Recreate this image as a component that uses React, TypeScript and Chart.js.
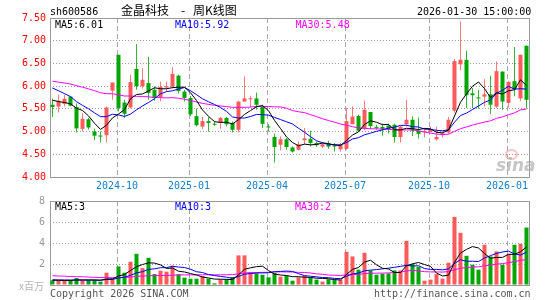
import { useEffect, useRef } from 'react';
import { Chart, registerables } from 'chart.js';

Chart.register(...registerables);

// Weekly candles (week-ending dates)
const weeks = [
  '2024-07-26', '2024-08-02', '2024-08-09', '2024-08-16', '2024-08-23', '2024-08-30', '2024-09-06', '2024-09-13', '2024-09-20', '2024-09-27',
  '2024-09-30', '2024-10-11', '2024-10-18', '2024-10-25', '2024-11-01', '2024-11-08', '2024-11-15', '2024-11-22', '2024-11-29', '2024-12-06',
  '2024-12-13', '2024-12-20', '2024-12-27', '2025-01-03', '2025-01-10', '2025-01-17', '2025-01-24', '2025-01-27', '2025-02-07', '2025-02-14',
  '2025-02-21', '2025-02-28', '2025-03-07', '2025-03-14', '2025-03-21', '2025-03-28', '2025-04-03', '2025-04-11', '2025-04-18', '2025-04-25',
  '2025-04-30', '2025-05-09', '2025-05-16', '2025-05-23', '2025-05-30', '2025-06-06', '2025-06-13', '2025-06-20', '2025-06-27', '2025-07-04',
  '2025-07-11', '2025-07-18', '2025-07-25', '2025-08-01', '2025-08-08', '2025-08-15', '2025-08-22', '2025-08-29', '2025-09-05', '2025-09-12',
  '2025-09-19', '2025-09-26', '2025-09-30', '2025-10-10', '2025-10-17', '2025-10-24', '2025-10-31', '2025-11-07', '2025-11-14', '2025-11-21',
  '2025-11-28', '2025-12-05', '2025-12-12', '2025-12-19', '2025-12-26', '2025-12-31', '2026-01-09', '2026-01-16', '2026-01-23', '2026-01-30',
];

const opens = [
  5.59, 5.55, 5.61, 5.77, 5.54, 5.06, 5.27, 5.00, 4.91, 4.92,
  5.90, 6.69, 5.64, 5.53, 6.38, 6.00, 6.07, 5.92, 5.76, 5.97,
  5.99, 6.23, 5.88, 5.74, 5.34, 5.11, 5.23, 5.17, 5.19, 5.30,
  5.19, 5.04, 5.66, 5.71, 5.73, 5.54, 5.11, 4.88, 4.71, 4.83,
  4.65, 4.60, 4.81, 4.84, 4.75, 4.67, 4.71, 4.69, 4.61, 4.62,
  5.16, 5.34, 5.07, 5.43, 5.10, 5.10, 5.13, 5.15, 4.88, 5.16,
  5.26, 5.02, 4.99, 5.00, 4.83, 4.92, 4.98, 5.46, 6.48, 6.58,
  5.84, 5.75, 5.77, 5.82, 5.55, 6.32, 5.63, 6.11, 5.73, 6.89,
];
const highs = [
  5.73, 5.81, 5.81, 5.78, 5.62, 5.41, 5.30, 5.06, 5.00, 5.55,
  6.08, 6.69, 5.70, 6.25, 6.93, 6.40, 6.64, 5.99, 6.10, 6.10,
  6.42, 6.25, 5.92, 5.79, 5.51, 5.32, 5.32, 5.22, 5.32, 5.32,
  5.22, 5.68, 6.21, 5.79, 5.86, 5.59, 5.16, 4.95, 4.89, 4.86,
  4.67, 4.78, 5.08, 5.02, 4.78, 4.75, 4.80, 4.75, 4.75, 5.52,
  5.56, 5.37, 5.68, 5.43, 5.15, 5.18, 5.17, 5.17, 5.12, 5.70,
  5.34, 5.31, 5.08, 5.11, 5.11, 5.00, 5.32, 6.60, 7.42, 6.78,
  5.96, 5.92, 6.15, 6.23, 6.54, 6.32, 6.12, 6.86, 6.69, 6.89,
];
const lows = [
  5.32, 5.42, 5.55, 5.56, 4.98, 5.00, 5.04, 4.81, 4.76, 4.76,
  5.70, 5.44, 5.30, 5.51, 5.92, 5.95, 5.70, 5.68, 5.67, 5.88,
  5.95, 5.84, 5.66, 5.34, 5.11, 5.05, 5.00, 5.13, 5.06, 5.11,
  4.98, 4.98, 5.66, 5.54, 5.48, 5.08, 5.00, 4.32, 4.59, 4.60,
  4.54, 4.59, 4.71, 4.67, 4.66, 4.64, 4.62, 4.56, 4.56, 4.60,
  5.16, 5.00, 5.03, 5.05, 5.04, 4.91, 4.96, 4.76, 4.76, 5.11,
  4.90, 4.85, 4.87, 4.99, 4.80, 4.87, 4.95, 5.42, 6.35, 5.52,
  5.52, 5.50, 5.55, 5.38, 5.52, 5.48, 5.53, 5.78, 5.67, 5.51,
];
const closes = [
  5.54, 5.68, 5.72, 5.57, 5.07, 5.28, 5.09, 4.91, 4.89, 5.53,
  6.08, 5.52, 5.39, 6.09, 6.00, 6.14, 5.85, 5.74, 5.98, 6.00,
  6.27, 5.89, 5.74, 5.38, 5.14, 5.23, 5.19, 5.15, 5.30, 5.16,
  5.04, 5.66, 5.73, 5.72, 5.59, 5.17, 5.09, 4.66, 4.83, 4.66,
  4.56, 4.72, 4.85, 4.75, 4.70, 4.72, 4.67, 4.67, 4.72, 5.23,
  5.33, 5.02, 5.48, 5.12, 5.08, 5.06, 5.05, 4.88, 5.11, 5.26,
  5.02, 4.95, 5.01, 5.06, 4.88, 4.96, 5.26, 6.55, 6.58, 5.80,
  5.80, 5.73, 5.82, 5.59, 6.33, 5.66, 6.09, 5.93, 6.69, 5.70,
];
// volume, millions
const volumes = [
  0.44, 0.44, 0.44, 0.44, 0.66, 0.44, 0.44, 0.44, 0.32, 1.17,
  0.57, 1.77, 1.17, 2.22, 2.97, 1.61, 2.59, 1.04, 1.36, 1.27,
  1.84, 1.04, 0.70, 0.60, 0.60, 0.85, 0.60, 0.16, 0.54, 0.54,
  0.76, 2.82, 2.82, 1.23, 1.11, 0.98, 0.73, 1.14, 0.79, 0.89,
  0.41, 0.73, 0.89, 0.70, 0.51, 0.32, 0.54, 0.51, 0.51, 3.16,
  2.72, 1.46, 3.07, 1.39, 0.98, 1.08, 1.11, 1.39, 1.39, 4.21,
  1.99, 1.74, 0.41, 0.51, 1.04, 0.60, 2.12, 6.49, 4.97, 2.78,
  1.93, 1.46, 3.83, 2.72, 3.20, 1.93, 2.94, 3.83, 3.92, 5.47,
];
// weeks before the visible window (only feed the moving averages)
const priorCloses = [
  6.35, 6.30, 6.22, 6.15, 6.28, 6.20, 6.12, 6.25, 6.18, 6.10,
  6.19, 6.20, 6.12, 6.18, 6.25, 6.10, 6.15, 6.08, 6.16, 6.12,
  6.30, 6.35, 6.22, 6.18, 6.10, 5.83, 5.82, 5.72, 5.54,
];
const priorVolumes = [
  1.2, 0.9, 1.4, 1.0, 0.8, 1.3, 1.1, 0.9, 1.5, 1.0,
  1.2, 0.8, 1.0, 1.1, 0.9, 1.3, 1.0, 0.9, 1.1, 1.0,
  0.6, 0.5, 0.55, 0.6, 0.5, 0.45, 0.5, 0.4, 0.46,
];

const monthTickLabels = ['2024-10', '2025-01', '2025-04', '2025-07', '2025-10', '2026-01'];
const priceTicks = [4.0, 4.5, 5.0, 5.5, 6.0, 6.5, 7.0, 7.5];
const volumeTicks = [0, 2, 4, 6, 8];

const RED = '#ff5a5a';
const GREEN = '#00a600';
const MONO = "'DejaVu Sans Mono', monospace";
const CJK = "'Noto Sans CJK SC', sans-serif";

const X_MIN = -5 / 12;
const X_MAX = X_MIN + 479 / 6;
const GRID_SHIFT = -0.25;
const BODY_RATIO = 5 / 6; // 5px of a 6px slot
const WICK_RATIO = 1 / 6; // 1px

function movingAverage(prior: number[], values: number[], n: number) {
  const all = prior.concat(values);
  return values.map((_, i) => {
    const end = prior.length + i;
    let s = 0;
    for (let k = end - n + 1; k <= end; k++) s += all[k];
    return s / n;
  });
}

const tickIndexes = monthTickLabels.map((m) => weeks.findIndex((w) => w.startsWith(m)));
const candleColors = closes.map((c, i) => (c >= opens[i] ? RED : GREEN));

const framePlugin = {
  id: 'frame',
  beforeDatasetsDraw(chart: any) {
    const { ctx, chartArea } = chart;
    ctx.save();
    ctx.strokeStyle = '#9a9a9a';
    ctx.lineWidth = 1;
    ctx.strokeRect(
      Math.round(chartArea.left) + 0.5,
      Math.round(chartArea.top) + 0.5,
      Math.round(chartArea.right - chartArea.left),
      Math.round(chartArea.bottom - chartArea.top)
    );
    ctx.restore();
  },
};

function xScale(showLabels: boolean) {
  return {
    type: 'linear',
    min: X_MIN,
    max: X_MAX,
    offset: false,
    afterBuildTicks: (s: any) => {
      s.ticks = tickIndexes.map((i) => ({ value: i + GRID_SHIFT }));
    },
    afterFit: (s: any) => {
      s.height = showLabels ? 20 : 0;
    },
    ticks: {
      display: showLabels,
      autoSkip: false,
      maxRotation: 0,
      padding: 3,
      color: '#0f7fce',
      font: { family: MONO, size: 10 },
      callback: (_v: any, idx: number) => monthTickLabels[idx],
    },
    grid: { color: '#a8a8a8', lineWidth: 1, drawTicks: false, offset: false },
    border: { display: false, dash: [5, 3] },
  };
}

function lineDs(data: number[], color: string) {
  return {
    type: 'line',
    data: data.map((y, i) => ({ x: i, y })),
    borderColor: color,
    borderWidth: 1,
    pointRadius: 0,
    tension: 0,
    fill: false,
    order: 0,
  };
}

function App() {
  const mainRef = useRef<HTMLCanvasElement | null>(null);
  const volRef = useRef<HTMLCanvasElement | null>(null);

  useEffect(() => {
    const ma5 = movingAverage(priorCloses, closes, 5);
    const ma10 = movingAverage(priorCloses, closes, 10);
    const ma30 = movingAverage(priorCloses, closes, 30);
    const vma5 = movingAverage(priorVolumes, volumes, 5);
    const vma10 = movingAverage(priorVolumes, volumes, 10);
    const vma30 = movingAverage(priorVolumes, volumes, 30);

    const main = new Chart(mainRef.current as HTMLCanvasElement, {
      type: 'bar',
      data: {
        datasets: [
          lineDs(ma5, '#000000'),
          lineDs(ma10, '#0000ff'),
          lineDs(ma30, '#ff00ff'),
          {
            type: 'bar',
            data: closes.map((c, i) => ({ x: i, y: [opens[i], c] })),
            backgroundColor: candleColors,
            grouped: false,
            barPercentage: BODY_RATIO,
            minBarLength: 1,
            borderWidth: 0,
            order: 2,
          },
          {
            type: 'bar',
            data: closes.map((_c, i) => ({ x: i, y: [lows[i], highs[i]] })),
            backgroundColor: candleColors,
            grouped: false,
            barPercentage: WICK_RATIO,
            minBarLength: 1,
            borderWidth: 0,
            order: 3,
          },
        ] as any,
      },
      options: {
        animation: false,
        responsive: false,
        maintainAspectRatio: false,
        events: [],
        layout: { padding: { top: 18, left: 0, right: 16, bottom: 103 } },
        plugins: { legend: { display: false }, tooltip: { enabled: false } },
        scales: {
          x: xScale(true) as any,
          y: {
            min: 4,
            max: 7.5,
            afterBuildTicks: (s: any) => {
              s.ticks = priceTicks.map((v) => ({ value: v }));
            },
            afterFit: (s: any) => {
              s.width = 50;
            },
            ticks: {
              padding: 4,
              color: '#ff0000',
              font: { family: MONO, size: 10 },
              callback: (v: any) => Number(v).toFixed(2),
            },
            grid: { color: '#9a9a9a', lineWidth: 1, drawTicks: false },
            border: { display: false, dash: [1, 2] },
          },
        },
      },
      plugins: [framePlugin],
    });

    const vol = new Chart(volRef.current as HTMLCanvasElement, {
      type: 'bar',
      data: {
        datasets: [
          lineDs(vma5, '#000000'),
          lineDs(vma10, '#0000ff'),
          lineDs(vma30, '#ff00ff'),
          {
            type: 'bar',
            data: volumes.map((v, i) => ({ x: i, y: v })),
            backgroundColor: candleColors,
            grouped: false,
            barPercentage: BODY_RATIO,
            borderWidth: 0,
            order: 2,
          },
        ] as any,
      },
      options: {
        animation: false,
        responsive: false,
        maintainAspectRatio: false,
        events: [],
        layout: { padding: { top: 201, left: 0, right: 16, bottom: 15 } },
        plugins: { legend: { display: false }, tooltip: { enabled: false } },
        scales: {
          x: xScale(false) as any,
          y: {
            min: 0,
            max: 8,
            afterBuildTicks: (s: any) => {
              s.ticks = volumeTicks.map((v) => ({ value: v }));
            },
            afterFit: (s: any) => {
              s.width = 50;
            },
            ticks: {
              padding: 5,
              color: '#999999',
              font: { family: MONO, size: 10 },
              callback: (v: any) => (Number(v) === 0 ? '' : String(v)),
            },
            grid: { color: '#9a9a9a', lineWidth: 1, drawTicks: false },
            border: { display: false, dash: [1, 2] },
          },
        },
      },
      plugins: [framePlugin],
    });

    return () => {
      main.destroy();
      vol.destroy();
    };
  }, []);

  const txt = (left: number, top: number, text: string, color: string, extra: any = {}) => (
    <span
      style={{
        position: 'absolute',
        left,
        top,
        color,
        fontFamily: MONO,
        fontSize: 10,
        lineHeight: '10px',
        whiteSpace: 'pre',
        ...extra,
      }}
    >
      {text}
    </span>
  );

  return (
    <div style={{ position: 'fixed', left: 0, top: 0, width: 545, height: 300, background: '#ffffff', overflow: 'hidden' }}>
      <canvas ref={mainRef} width={545} height={300} style={{ position: 'absolute', left: 0, top: 0 }} />
      <canvas ref={volRef} width={545} height={300} style={{ position: 'absolute', left: 0, top: 0 }} />
      {txt(50, 7, 'sh600586', '#000')}
      {txt(121, 3.5, '金晶科技', '#000', { fontFamily: CJK, fontSize: 12, lineHeight: '12px' })}
      {txt(181, 3.5, '-', '#000', { fontFamily: CJK, fontSize: 12, lineHeight: '12px' })}
      {txt(193, 3.5, '周K线图', '#000', { fontFamily: CJK, fontSize: 12, lineHeight: '12px' })}
      {txt(417, 7, '2026-01-30 15:00:00', '#000')}
      {txt(55, 19.5, 'MA5:6.01', '#000')}
      {txt(175, 19.5, 'MA10:5.92', '#0000ff')}
      {txt(295.5, 19.5, 'MA30:5.48', '#ff00ff')}
      {txt(55, 202, 'MA5:3', '#000')}
      {txt(175, 202, 'MA10:3', '#0000ff')}
      {txt(295, 202, 'MA30:2', '#ff00ff')}
      {txt(19, 281, 'x百万', '#b4b4b4', { fontFamily: CJK })}
      {txt(50, 288.5, 'Copyright 2026 SINA.COM', '#555')}
      {txt(374, 288.5, 'http://finance.sina.com.cn', '#555')}
      <span
        style={{
          position: 'absolute',
          left: 505,
          top: 149,
          width: 9,
          height: 7,
          borderRadius: '50%',
          border: '2px solid rgba(240,150,150,0.55)',
        }}
      />
      {txt(496, 157, 'sina', 'rgba(160,160,160,0.6)', {
        fontFamily: "'DejaVu Sans', sans-serif",
        fontSize: 17,
        lineHeight: '17px',
        fontStyle: 'italic',
        fontWeight: 'bold',
      })}
    </div>
  );
}

export default App;
